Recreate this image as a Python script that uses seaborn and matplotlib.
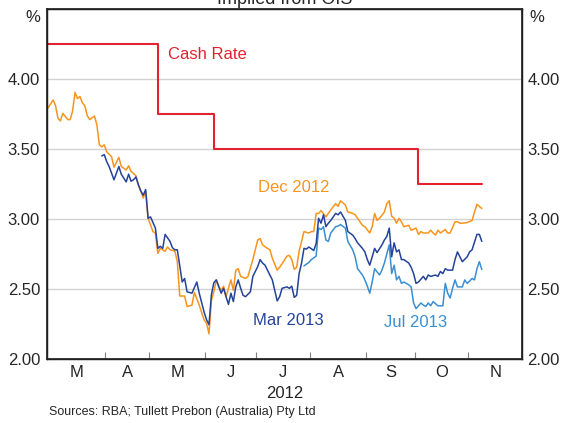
import numpy as np
import pandas as pd
import matplotlib
matplotlib.use("Agg")
import matplotlib.pyplot as plt
import seaborn as sns

# trading-day calendar (days counted from 28 Feb 2012)
START, END = "2012-02-28", "2012-11-30"
HOLIDAYS = ["2012-04-06", "2012-04-09", "2012-04-25", "2012-10-01"]
MONTHS = ["M", "A", "M", "J", "J", "A", "S", "O", "N"]

# cash rate target
cash_dates = ["2012-02-28", "2012-05-04", "2012-06-06", "2012-10-03", "2012-11-08"]
cash_rate = [4.25, 3.75, 3.50, 3.25, 3.25]

# implied rates from OIS
dec_days = [0, 2, 3, 4, 5, 6, 8, 9, 10, 11, 12, 13, 14, 15, 16, 17, 19, 20, 21, 22,
            23, 24, 26, 27, 29, 30, 32, 33, 34, 36, 37, 38, 39, 40, 41, 43, 44, 45, 46, 48,
            49, 50, 52, 53, 54, 56, 57, 59, 60, 62, 63, 64, 65, 66, 67, 68, 69, 70, 71, 72,
            73, 74, 75, 76, 77, 78, 79, 81, 82, 84, 85, 86, 87, 88, 90, 91, 92, 94, 95, 96,
            98, 99, 100, 101, 102, 103, 104, 105, 107, 108, 109, 110, 111, 112, 114, 115, 116, 118, 119, 120,
            122, 123, 125, 126, 127, 129, 130, 132, 133, 134, 135, 136, 138, 139, 140, 141, 142, 143, 144, 145,
            146, 148, 149, 151, 152, 153, 154, 156, 157, 158, 159, 160, 161, 163, 164, 165, 167, 168, 169, 170,
            172, 174, 175, 176, 177, 178]
dec_vals = [3.795, 3.85, 3.81, 3.72, 3.70, 3.755, 3.71, 3.71, 3.77, 3.905, 3.86, 3.875, 3.83, 3.81, 3.74, 3.71, 3.735, 3.67, 3.53, 3.515,
            3.53, 3.48, 3.445, 3.37, 3.44, 3.375, 3.35, 3.38, 3.34, 3.31, 3.245, 3.20, 3.15, 3.20, 3.005, 2.91, 2.90, 2.755, 2.79, 2.77,
            2.80, 2.78, 2.77, 2.695, 2.45, 2.45, 2.375, 2.385, 2.475, 2.385, 2.33, 2.28, 2.255, 2.18, 2.42, 2.48, 2.565, 2.52, 2.49, 2.52,
            2.445, 2.505, 2.565, 2.49, 2.635, 2.645, 2.59, 2.575, 2.59, 2.71, 2.78, 2.85, 2.86, 2.815, 2.79, 2.78, 2.72, 2.635, 2.655, 2.68,
            2.735, 2.74, 2.71, 2.64, 2.655, 2.77, 2.84, 2.91, 2.90, 2.91, 2.91, 3.04, 3.04, 3.06, 3.015, 3.04, 3.065, 3.11, 3.09, 3.13,
            3.10, 3.05, 3.04, 3.03, 3.005, 2.955, 2.945, 2.90, 2.945, 3.04, 2.99, 3.005, 3.05, 3.11, 3.13, 3.02, 3.005, 2.97, 3.005, 2.98,
            2.945, 2.955, 2.92, 2.935, 2.89, 2.91, 2.90, 2.90, 2.92, 2.90, 2.885, 2.92, 2.90, 2.925, 2.90, 2.90, 2.98, 2.98, 2.97, 2.97,
            2.975, 2.99, 3.05, 3.105, 3.09, 3.075]

mar_days = [22, 23, 24, 25, 27, 29, 30, 32, 33, 34, 35, 36, 37, 38, 39, 40, 41, 42, 44, 45,
            46, 47, 48, 50, 51, 52, 53, 55, 56, 57, 59, 61, 62, 64, 65, 66, 67, 68, 69, 71,
            72, 73, 74, 75, 76, 77, 78, 79, 80, 81, 83, 84, 86, 87, 88, 89, 90, 92, 93, 94,
            95, 96, 98, 99, 100, 101, 102, 103, 104, 105, 106, 107, 109, 110, 111, 112, 113, 114, 115, 116,
            118, 119, 120, 122, 123, 125, 126, 127, 129, 130, 131, 132, 133, 134, 135, 137, 138, 139, 140, 141,
            142, 143, 144, 145, 146, 148, 149, 150, 151, 152, 153, 154, 155, 156, 157, 159, 160, 161, 162, 163,
            164, 166, 167, 168, 169, 170, 172, 173, 174, 176, 177, 178]
mar_vals = [3.45, 3.46, 3.41, 3.375, 3.28, 3.375, 3.32, 3.265, 3.32, 3.27, 3.28, 3.30, 3.245, 3.20, 3.17, 3.21, 3.005, 3.015, 2.935, 2.79,
            2.805, 2.79, 2.89, 2.84, 2.795, 2.78, 2.78, 2.55, 2.575, 2.48, 2.47, 2.55, 2.47, 2.335, 2.28, 2.245, 2.46, 2.545, 2.565, 2.47,
            2.505, 2.445, 2.39, 2.47, 2.41, 2.515, 2.565, 2.505, 2.455, 2.445, 2.48, 2.59, 2.66, 2.71, 2.685, 2.67, 2.635, 2.565, 2.49, 2.415,
            2.445, 2.505, 2.515, 2.505, 2.52, 2.44, 2.455, 2.61, 2.685, 2.79, 2.785, 2.80, 2.775, 2.825, 3.005, 2.97, 3.03, 2.945, 2.97, 2.99,
            3.04, 3.03, 3.05, 2.99, 2.91, 2.885, 2.86, 2.83, 2.79, 2.765, 2.71, 2.67, 2.73, 2.79, 2.76, 2.815, 2.85, 2.875, 2.935, 2.73,
            2.83, 2.765, 2.78, 2.71, 2.71, 2.685, 2.655, 2.61, 2.54, 2.55, 2.57, 2.59, 2.565, 2.60, 2.59, 2.60, 2.59, 2.625, 2.61, 2.645,
            2.635, 2.635, 2.71, 2.765, 2.73, 2.695, 2.73, 2.765, 2.78, 2.89, 2.89, 2.84]

jul_days = [105, 107, 108, 110, 111, 112, 113, 114, 115, 116, 118, 119, 120, 122, 123, 125, 126, 127, 129, 130,
            131, 132, 133, 134, 136, 137, 138, 140, 141, 142, 143, 144, 145, 146, 148, 149, 150, 151, 153, 154,
            155, 156, 157, 158, 160, 161, 162, 163, 164, 165, 166, 167, 168, 170, 171, 172, 174, 175, 176, 177,
            178]
jul_vals = [2.665, 2.69, 2.71, 2.735, 2.935, 2.925, 2.945, 2.85, 2.84, 2.90, 2.945, 2.95, 2.96, 2.935, 2.84, 2.78, 2.73, 2.645, 2.60, 2.565,
            2.52, 2.47, 2.55, 2.645, 2.60, 2.635, 2.685, 2.815, 2.61, 2.67, 2.565, 2.59, 2.54, 2.55, 2.53, 2.515, 2.40, 2.36, 2.40, 2.385,
            2.375, 2.40, 2.38, 2.41, 2.38, 2.38, 2.38, 2.54, 2.47, 2.435, 2.505, 2.565, 2.515, 2.515, 2.565, 2.54, 2.575, 2.565, 2.645, 2.695,
            2.64]

ORANGE = "#f7941d"
NAVY = "#24439a"
LIGHT = "#3a8fd3"
RED = "#e2232f"

sns.set_theme(style="white")
plt.rcParams["font.family"] = ["Liberation Sans", "DejaVu Sans"]
plt.rcParams["font.size"] = 12

bdays = pd.bdate_range(START, END)
bdays = bdays[~bdays.isin(pd.to_datetime(HOLIDAYS))]
n = len(bdays)
cash_days = [bdays.get_loc(pd.Timestamp(d)) for d in cash_dates]

fig = plt.figure(figsize=(5.63, 4.23), dpi=100)
ax = fig.add_axes([47 / 563, 1 - 359 / 423, 475 / 563, 350 / 423])

sns.lineplot(x=cash_days, y=cash_rate, color=RED, lw=1.5, drawstyle="steps-post", ax=ax)
sns.lineplot(x=dec_days, y=dec_vals, color=ORANGE, lw=1.1, ax=ax)
sns.lineplot(x=jul_days, y=jul_vals, color=LIGHT, lw=1.1, ax=ax)
sns.lineplot(x=mar_days, y=mar_vals, color=NAVY, lw=1.1, ax=ax)

yt = [2.0, 2.5, 3.0, 3.5, 4.0]
ax.set_ylim(2.0, 4.5)
ax.set_xlim(-0.5, n - 0.5)
ax.set_yticks(yt)
ax.set_yticklabels([f"{v:.2f}" for v in yt])
ax.yaxis.grid(True, color="#d2d2d2", lw=1)
ax.set_axisbelow(True)
ax.tick_params(axis="y", length=0, pad=5, labelsize=12)

# month boundaries as small ticks, labels in the middle of each month
# (the few February days are folded into March)
pos = pd.Series(np.arange(n), index=bdays)
starts = pos.groupby(bdays.month).min().values
bounds = starts[2:] - 0.5
edges = np.concatenate([[-0.5], bounds, [n - 0.5]])
centers = (edges[:-1] + edges[1:]) / 2
ax.set_xticks(centers)
ax.set_xticklabels(MONTHS)
ax.set_xticks(bounds, minor=True)
ax.tick_params(axis="x", which="major", length=0, pad=4, labelsize=12)
ax.tick_params(axis="x", which="minor", direction="in", length=5, width=0.8,
               color="#808080", bottom=True)
ax.set_xlabel("")
ax.set_ylabel("")

for s in ax.spines.values():
    s.set_color("black")
    s.set_linewidth(1)

ax2 = ax.twinx()
ax2.set_ylim(2.0, 4.5)
ax2.set_yticks(yt)
ax2.set_yticklabels([f"{v:.2f}" for v in yt])
ax2.tick_params(axis="y", length=0, pad=4, labelsize=12)
ax2.grid(False)

ax.text(0.255, 0.869, "Cash Rate", color=RED, fontsize=12, transform=ax.transAxes, va="center")
ax.text(0.444, 0.491, "Dec 2012", color=ORANGE, fontsize=12, transform=ax.transAxes, va="center")
ax.text(0.434, 0.111, "Mar 2013", color=NAVY, fontsize=12, transform=ax.transAxes, va="center")
ax.text(0.709, 0.103, "Jul 2013", color=LIGHT, fontsize=12, transform=ax.transAxes, va="center")

fig.text(285 / 563, 1.0, "Implied from OIS", fontsize=13, ha="center", va="center")
fig.text(33 / 563, 1 - 18 / 423, "%", fontsize=12, ha="center", va="center")
fig.text(537 / 563, 1 - 18 / 423, "%", fontsize=12, ha="center", va="center")
fig.text(284.5 / 563, 1 - 393 / 423, "2012", fontsize=12, ha="center", va="center")
fig.text(49 / 563, 1 - 412 / 423, "Sources: RBA; Tullett Prebon (Australia) Pty Ltd",
         fontsize=9, ha="left", va="center")

fig.savefig("out.png", dpi=100)
